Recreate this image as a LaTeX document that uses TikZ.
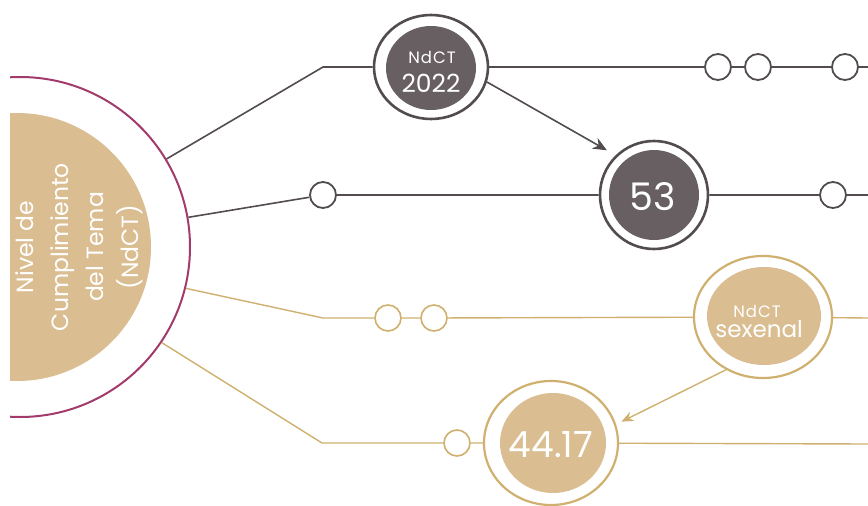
\documentclass[tikz,border=0pt]{standalone}
\usepackage{fontspec}
\setmainfont{Poppins}
\usetikzlibrary{shapes.geometric,arrows.meta,calc}
\definecolor{dk}{HTML}{524C4E}
\definecolor{dkfill}{HTML}{675F62}
\definecolor{gd}{HTML}{CFB06E}
\definecolor{tanf}{HTML}{DABD91}
\definecolor{mag}{HTML}{A23A6B}
\begin{document}
\begin{tikzpicture}[x=1pt,y=-1pt,
  dline/.style={draw=dk,line width=1.6pt},
  gline/.style={draw=gd,line width=1.4pt},
  dsmall/.style={circle,draw=dk,line width=1.8pt,minimum size=26pt,inner sep=0pt,fill=white},
  gsmall/.style={circle,draw=gd,line width=1.6pt,minimum size=26pt,inner sep=0pt,fill=white},
  dinner/.style={ellipse,fill=dkfill,inner sep=0pt},
  dring/.style={ellipse,draw=dk,line width=2.6pt,inner sep=0pt},
  ginner/.style={ellipse,fill=tanf,inner sep=0pt},
  gring/.style={ellipse,draw=gd,line width=2.2pt,inner sep=0pt},
  txt/.style={text=white,align=center,inner sep=0pt},
  smalltxt/.style={txt,anchor=base,font={\fontsize{16.5}{18}\selectfont\addfontfeature{LetterSpace=6}}},
]
\useasboundingbox (0,0) rectangle (868,506);
\begin{scope}
  \clip (10,0) rectangle (868,506);
  \node[circle,draw=mag,line width=2pt,minimum size=340pt,inner sep=0pt] (bigring) at (20,247) {};
  \node[circle,fill=tanf,minimum size=268pt,inner sep=0pt] (bigfill) at (17,247) {};
\end{scope}
\node[txt,rotate=90,font={\fontsize{23.5}{35}\selectfont}] (bigtxt) at (79,247) {Nivel de\\Cumplimiento\\del Tema\\(NdCT)};

% coordinates
\coordinate (e1) at (323,67);
\coordinate (e3) at (323,318);
\coordinate (e4) at (322,443);
\coordinate (end1) at (868,67);
\coordinate (end2) at (868,195);
\coordinate (end3) at (868,318);
\coordinate (end4) at (868,444);

% big nodes
\node[dring,minimum width=114pt,minimum height=104pt] (n2022o) at (431,67) {};
\node[dinner,minimum width=90pt,minimum height=84pt] (n2022) at (431,68) {};
\node[smalltxt] (t2022a) at (432,63) {NdCT};
\node[txt,anchor=base,font={\fontsize{25}{26}\selectfont}] (t2022b) at (431,92) {2022};
\node[dring,minimum width=108pt,minimum height=108pt] (n53o) at (654,195) {};
\node[dinner,minimum width=90pt,minimum height=90pt] (n53) at (654,195) {};
\node[txt,font={\fontsize{38}{40}\selectfont}] (t53) at (653,197) {53};
\node[gring,minimum width=138pt,minimum height=122pt] (nsexo) at (763,317) {};
\node[ginner,minimum width=114pt,minimum height=98pt] (nsex) at (764,316) {};
\node[smalltxt] (tsexa) at (757,317) {NdCT};
\node[txt,anchor=base,font={\fontsize{23}{24}\selectfont}] (tsexb) at (759,337) {sexenal};
\node[gring,minimum width=134pt,minimum height=124pt] (n44o) at (551,443) {};
\node[ginner,minimum width=106pt,minimum height=100pt] (n44) at (553,443) {};
\node[txt,font={\fontsize{36}{38}\selectfont}] (t44) at (551,445) {44.17};

% small circles
\node[dsmall] (s1a) at (718,67) {};
\node[dsmall] (s1b) at (758,67) {};
\node[dsmall] (s1c) at (845,67) {};
\node[dsmall] (s2a) at (323,195) {};
\node[dsmall] (s2b) at (833,195) {};
\node[gsmall] (s3a) at (388,318) {};
\node[gsmall] (s3b) at (434,318) {};
\node[gsmall] (s4a) at (457,443) {};

% connectors
\draw[dline] (bigring.31.5) -- (e1) -- (n2022o);
\draw[dline] (n2022o) -- (s1a) -- (s1b) -- (s1c) -- (end1);
\draw[dline] (bigring.10.7) -- (s2a) -- (n53o) -- (s2b) -- (end2);
\draw[gline] (bigring.-14) -- (e3) -- (s3a) -- (s3b) -- (nsexo) -- (end3);
\draw[gline] (bigring.-34) -- (e4) -- (s4a) -- (n44o) -- (end4);
\draw[dline,-{Stealth[length=14pt,width=12pt]},shorten >=10pt] (n2022o.-15) -- (n53o.134);
\draw[gline,-{Stealth[length=12pt,width=10pt]},shorten >=6pt] (nsexo.-125) -- (n44o.16);
\end{tikzpicture}
\end{document}
